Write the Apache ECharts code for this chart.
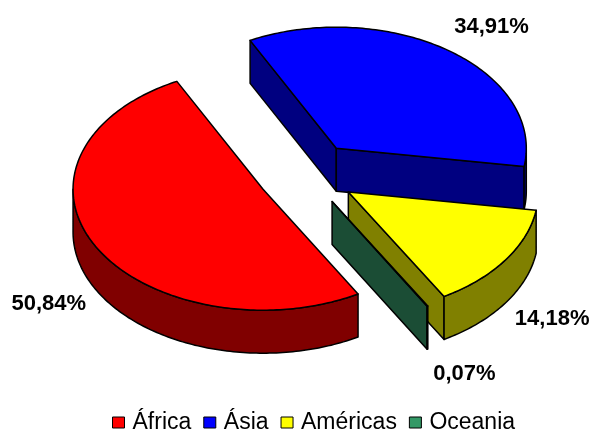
<!DOCTYPE html>
<html>
<head>
<meta charset="utf-8">
<script src="https://cdn.jsdelivr.net/npm/echarts@6/dist/echarts.min.js"></script>
<style>
  html, body { margin: 0; padding: 0; background: #fff; }
  #main { width: 592px; height: 430px; }
</style>
</head>
<body>
<div id="main"></div>
<script>
var regions = ['África', 'Ásia', 'Américas', 'Oceania'];
var shares = [50.84, 34.91, 14.18, 0.07];
var topColors = ['#ff0000', '#0000ff', '#ffff00', '#339966'];
var sideColors = ['#800000', '#000080', '#808000', '#1b4d35'];

// excel style 3d pie, every slice pulled out
var firstAngle = 150; // deg, clockwise from 12 o'clock
var cx = 307, cy = 174;
var rx = 190, ry = 121;
var depth = 43;
var explode = 50;
var RAD = Math.PI / 180;

function point(c, deg, r1, r2) {
  return [c[0] + r1 * Math.sin(deg * RAD), c[1] - r2 * Math.cos(deg * RAD)];
}
function down(p) {
  return [p[0], p[1] + depth];
}
function sliceAngles(i) {
  var total = shares.reduce(function (a, b) { return a + b; }, 0);
  var start = firstAngle;
  for (var j = 0; j < i; j++) start += shares[j] / total * 360;
  return [start, start + shares[i] / total * 360];
}
function arc(c, a, b) {
  var n = Math.max(1, Math.ceil(b - a));
  var pts = [];
  for (var k = 0; k <= n; k++) pts.push(point(c, a + (b - a) * k / n, rx, ry));
  return pts;
}
function fmt(v) {
  return v.toFixed(2).replace('.', ',') + '%';
}

function renderSlice(i) {
  return function (params, api) {
    var ang = sliceAngles(i);
    var mid = (ang[0] + ang[1]) / 2;
    var c = point([cx, cy], mid, explode, explode * ry / rx);
    var line = { stroke: '#000', lineWidth: 1.5, lineJoin: 'round' };
    var kids = [];
    var walls = [[ang[0], ang[0] - 90], [ang[1], ang[1] + 90]];

    // radial walls, only the ones facing us
    walls.forEach(function (w) {
      if (Math.cos(w[1] * RAD) < 0) {
        var p = point(c, w[0], rx, ry);
        kids.push({
          type: 'polygon',
          shape: { points: [c, p, down(p), down(c)] },
          style: Object.assign({ fill: sideColors[i] }, line)
        });
      }
    });

    // outer wall, front half only
    for (var k = -1; k <= 1; k++) {
      var lo = Math.max(ang[0], 90 + 360 * k);
      var hi = Math.min(ang[1], 270 + 360 * k);
      if (hi > lo) {
        var top = arc(c, lo, hi);
        kids.push({
          type: 'polygon',
          shape: { points: top.concat(top.map(down).reverse()) },
          style: Object.assign({ fill: sideColors[i] }, line)
        });
      }
    }

    // top face
    kids.push({
      type: 'polygon',
      shape: { points: [c].concat(arc(c, ang[0], ang[1])) },
      style: Object.assign({ fill: topColors[i] }, line)
    });

    // percent label
    var s = Math.sin(mid * RAD), co = Math.cos(mid * RAD);
    kids.push({
      type: 'text',
      x: c[0] + 1.06 * rx * s,
      y: c[1] - 1.24 * ry * co + (co < 0 ? depth : 0),
      style: {
        text: fmt(shares[i]),
        fill: '#000',
        font: 'bold 22px "Liberation Sans", Arial, sans-serif',
        align: s >= 0 ? 'left' : 'right',
        verticalAlign: 'middle'
      }
    });
    return { type: 'group', children: kids };
  };
}

// back slices first
var order = regions.map(function (r, i) {
  var a = sliceAngles(i);
  return -Math.cos((a[0] + a[1]) / 2 * RAD);
});
var sorted = order.slice().sort(function (a, b) { return a - b; });

var chart = echarts.init(document.getElementById('main'));
chart.setOption({
  animation: false,
  legend: {
    data: regions,
    left: 107,
    top: 406,
    icon: 'rect',
    itemWidth: 12,
    itemHeight: 11,
    itemGap: 12,
    itemStyle: { borderColor: '#000', borderWidth: 1 },
    textStyle: {
      fontFamily: '"Liberation Sans", Arial, sans-serif',
      fontSize: 23,
      color: '#000',
      padding: [0, 0, 0, 3]
    }
  },
  series: regions.map(function (name, i) {
    return {
      type: 'custom',
      name: name,
      coordinateSystem: 'none',
      silent: true,
      z: 2 + sorted.indexOf(order[i]),
      itemStyle: { color: topColors[i] },
      data: [shares[i]],
      renderItem: renderSlice(i)
    };
  })
});
</script>
</body>
</html>
